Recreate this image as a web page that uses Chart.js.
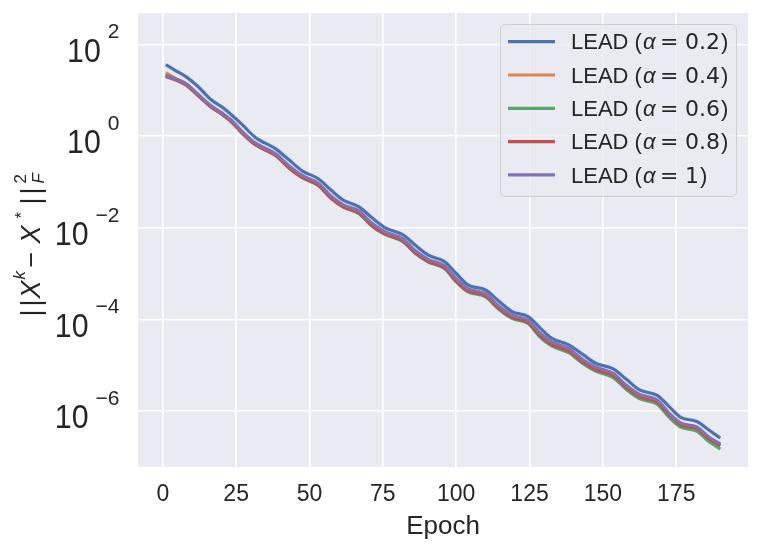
<!DOCTYPE html>
<html>
<head>
<meta charset="utf-8">
<script src="https://cdn.jsdelivr.net/npm/chart.js@4.4.1/dist/chart.umd.min.js"></script>
<style>
  html, body { margin: 0; padding: 0; background: #fff; }
  canvas { display: block; }
</style>
</head>
<body>
<canvas id="chart" width="761" height="552"></canvas>
<script>
// values (log y axis)
const epochs = [1, 4, 8, 12, 16.5, 20, 23.5, 27.5, 31.5, 38.5, 43, 47.5, 53, 57, 61.5, 67, 71, 75.5,
  82, 86, 90.5, 96, 100, 104, 110, 114.5, 119, 124.5, 128.5, 132.5, 138.5, 143, 147.5, 153.5,
  158, 162.5, 168.5, 172.5, 176.5, 182, 186, 190];

const lead02 = [36, 27.5, 19.5, 12.0, 6.17, 4.37, 2.88, 1.66, 0.933, 0.525, 0.302, 0.174, 0.117,
  6.92e-2, 3.98e-2, 2.82e-2, 1.70e-2, 1.02e-2, 6.92e-3, 4.17e-3, 2.51e-3, 1.82e-3, 1.00e-3,
  5.62e-4, 4.37e-4, 2.51e-4, 1.48e-4, 1.15e-4, 6.61e-5, 3.89e-5, 2.75e-5, 1.74e-5, 1.10e-5,
  8.32e-6, 4.90e-6, 2.88e-6, 2.19e-6, 1.26e-6, 7.24e-7, 5.89e-7, 3.89e-7, 2.57e-7];

const lead04 = [24.0, 18.6, 13.8, 7.94, 4.47, 3.16, 2.09, 1.15, 0.692, 0.389, 0.209, 0.132, 8.91e-2,
  4.90e-2, 3.02e-2, 2.14e-2, 1.23e-2, 7.94e-3, 5.37e-3, 3.02e-3, 1.95e-3, 1.41e-3, 7.24e-4,
  4.37e-4, 3.39e-4, 1.82e-4, 1.15e-4, 8.71e-5, 4.68e-5, 2.95e-5, 2.09e-5, 1.23e-5, 8.32e-6,
  6.31e-6, 3.39e-6, 2.14e-6, 1.62e-6, 8.51e-7, 5.25e-7, 4.27e-7, 2.57e-7, 1.82e-7];

const lead06 = [21.4, 17.8, 13.2, 7.76, 4.37, 3.09, 2.04, 1.10, 0.661, 0.380, 0.204, 0.126, 8.51e-2,
  4.68e-2, 2.88e-2, 2.00e-2, 1.12e-2, 7.24e-3, 4.90e-3, 2.75e-3, 1.78e-3, 1.29e-3, 6.61e-4,
  3.98e-4, 3.09e-4, 1.66e-4, 1.05e-4, 8.13e-5, 4.17e-5, 2.63e-5, 1.86e-5, 1.10e-5, 7.41e-6,
  5.37e-6, 2.95e-6, 1.86e-6, 1.41e-6, 7.41e-7, 4.47e-7, 3.63e-7, 2.19e-7, 1.48e-7];

const lead08 = [20.0, 17.0, 12.9, 7.59, 4.27, 3.02, 2.00, 1.07, 0.646, 0.372, 0.200, 0.123, 8.32e-2,
  4.57e-2, 2.82e-2, 2.04e-2, 1.15e-2, 7.41e-3, 5.01e-3, 2.82e-3, 1.82e-3, 1.32e-3, 6.76e-4,
  4.17e-4, 3.24e-4, 1.74e-4, 1.10e-4, 8.51e-5, 4.47e-5, 2.82e-5, 2.00e-5, 1.17e-5, 7.94e-6,
  5.89e-6, 3.24e-6, 2.04e-6, 1.55e-6, 8.32e-7, 5.01e-7, 4.07e-7, 2.51e-7, 1.74e-7];

const lead10 = [20.9, 17.8, 13.8, 8.13, 4.57, 3.24, 2.19, 1.17, 0.708, 0.407, 0.224, 0.138, 9.33e-2,
  5.13e-2, 3.16e-2, 2.29e-2, 1.29e-2, 8.32e-3, 5.62e-3, 3.16e-3, 2.04e-3, 1.48e-3, 7.76e-4,
  4.68e-4, 3.63e-4, 1.95e-4, 1.23e-4, 9.55e-5, 5.13e-5, 3.24e-5, 2.29e-5, 1.35e-5, 9.12e-6,
  6.61e-6, 3.63e-6, 2.29e-6, 1.74e-6, 9.12e-7, 5.50e-7, 4.47e-7, 2.75e-7, 1.91e-7];

const alphas = ['0.2', '0.4', '0.6', '0.8', '1'];
const colors = ['#4C72B0', '#DD8452', '#55A868', '#C44E52', '#8172B3'];
const xTicks = [0, 25, 50, 75, 100, 125, 150, 175];
const yTicks = [1e2, 1e0, 1e-2, 1e-4, 1e-6];
const yTickExp = ['2', '0', '\u22122', '\u22124', '\u22126'];

const FONT = "'Liberation Sans', Arial, Helvetica, sans-serif";
const MATH = "'DejaVu Sans', sans-serif";
const TEXT = '#262626';

const allSeries = [lead02, lead04, lead06, lead08, lead10];

// plot background (seaborn darkgrid)
const background = {
  id: 'background',
  beforeDraw(chart) {
    const { ctx, chartArea: a } = chart;
    ctx.save();
    ctx.fillStyle = '#ffffff';
    ctx.fillRect(0, 0, chart.width, chart.height);
    ctx.fillStyle = '#EAEAF2';
    ctx.fillRect(a.left, a.top, a.right - a.left, a.bottom - a.top);
    ctx.restore();
  }
};

// 10^n labels and the math y title
const yAxisText = {
  id: 'yAxisText',
  afterDraw(chart) {
    const ctx = chart.ctx;
    const y = chart.scales.y;
    ctx.save();
    ctx.fillStyle = TEXT;
    ctx.textBaseline = 'alphabetic';
    yTicks.forEach((v, i) => {
      const py = y.getPixelForValue(v);
      ctx.textAlign = 'right';
      ctx.font = `21px ${FONT}`;
      const ew = ctx.measureText(yTickExp[i]).width;
      ctx.fillText(yTickExp[i], 119.5, py - 6);
      ctx.save();
      ctx.translate(119.5 - ew - 7, py + 17.3);
      ctx.scale(0.92, 1);
      ctx.font = `33px ${FONT}`;
      ctx.fillText('10', 0, 0);
      ctx.restore();
    });

    // ||X^k - X^*||_F^2 , rotated, pieces placed along the baseline
    const big = 27, small = 17;
    const parts = [
      { t: '|', at: 2, f: `${big}px ${FONT}`, dy: 0 },
      { t: '|', at: 12, f: `${big}px ${FONT}`, dy: 0 },
      { t: 'X', at: 20, f: `italic ${big}px ${FONT}`, dy: 0 },
      { t: 'k', at: 39, f: `italic ${small}px ${FONT}`, dy: -15 },
      { t: '\u2212', at: 51, f: `${big}px ${FONT}`, dy: 0 },
      { t: 'X', at: 75, f: `italic ${big}px ${FONT}`, dy: 0 },
      { t: '*', at: 100, f: `${small}px ${FONT}`, dy: -13 },
      { t: '|', at: 114, f: `${big}px ${FONT}`, dy: 0 },
      { t: '|', at: 124, f: `${big}px ${FONT}`, dy: 0 },
      { t: '2', at: 135, f: `${small}px ${FONT}`, dy: -14 },
      { t: 'F', at: 135, f: `italic ${small}px ${FONT}`, dy: 4 }
    ];
    ctx.textAlign = 'left';
    ctx.translate(39.5, 318.5);
    ctx.rotate(-Math.PI / 2);
    parts.forEach(p => {
      ctx.font = p.f;
      ctx.fillText(p.t, p.at, p.dy);
    });
    ctx.restore();
  }
};

// legend box inside the axes, upper right
const legendBox = {
  id: 'legendBox',
  afterDraw(chart) {
    const ctx = chart.ctx;
    ctx.save();
    ctx.beginPath();
    ctx.roundRect(500.5, 24.5, 236, 172, 5);
    ctx.fillStyle = 'rgba(234,234,242,0.8)';
    ctx.fill();
    ctx.strokeStyle = 'rgba(204,204,204,0.9)';
    ctx.lineWidth = 1;
    ctx.stroke();
    ctx.textBaseline = 'alphabetic';
    ctx.textAlign = 'left';
    ctx.fillStyle = TEXT;
    chart.data.datasets.forEach((ds, i) => {
      const cy = 41.7 + i * 33.3;
      ctx.strokeStyle = ds.borderColor;
      ctx.lineWidth = 3.2;
      ctx.beginPath();
      ctx.moveTo(508, cy);
      ctx.lineTo(555, cy);
      ctx.stroke();
      const by = cy + 7.6;
      ctx.font = `22px ${FONT}`;
      ctx.fillText('LEAD (', 571, by);
      ctx.font = `italic 22px ${FONT}`;
      ctx.fillText('\u03b1', 643, by);
      ctx.font = `22px ${MATH}`;
      ctx.fillText('=', 660, by);
      const vw = ctx.measureText(alphas[i]).width;
      ctx.fillText(alphas[i], 685, by);
      ctx.font = `22px ${FONT}`;
      ctx.fillText(')', 685 + vw + 1, by);
    });
    ctx.restore();
  }
};

Chart.defaults.font.family = FONT;
Chart.defaults.color = TEXT;

new Chart(document.getElementById('chart'), {
  type: 'line',
  data: {
    datasets: allSeries.map((vals, i) => ({
      label: `LEAD (\u03b1 = ${alphas[i]})`,
      data: epochs.map((e, j) => ({ x: e, y: vals[j] })),
      borderColor: colors[i],
      backgroundColor: colors[i],
      borderWidth: 3.2,
      pointRadius: 0,
      fill: false,
      cubicInterpolationMode: 'monotone',
      order: allSeries.length - i
    }))
  },
  options: {
    responsive: false,
    animation: false,
    devicePixelRatio: 1,
    layout: { padding: { top: 13, right: 13, left: 0, bottom: 0 } },
    plugins: {
      legend: { display: false },
      tooltip: { enabled: false }
    },
    scales: {
      x: {
        type: 'linear',
        min: -8.45,
        max: 199.45,
        afterBuildTicks: s => { s.ticks = xTicks.map(v => ({ value: v })); },
        afterFit: s => { s.height = 85; },
        ticks: { font: { size: 23 }, color: TEXT, padding: 14, maxRotation: 0, autoSkip: false },
        grid: { color: '#ffffff', lineWidth: 1.6, drawTicks: false },
        border: { display: false },
        title: { display: true, text: 'Epoch', font: { size: 26 }, color: TEXT, padding: { top: 0, bottom: 10 } }
      },
      y: {
        type: 'logarithmic',
        min: 6.03e-8,
        max: 483,
        afterBuildTicks: s => { s.ticks = yTicks.map(v => ({ value: v })); },
        afterFit: s => { s.width = 138; },
        ticks: { display: false },
        grid: { color: '#ffffff', lineWidth: 1.6, drawTicks: false },
        border: { display: false }
      }
    }
  },
  plugins: [background, yAxisText, legendBox]
});
</script>
</body>
</html>
